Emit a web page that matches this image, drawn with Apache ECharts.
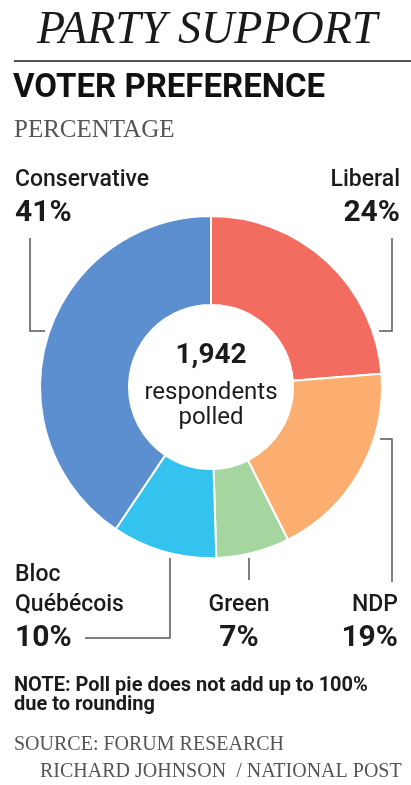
<!DOCTYPE html>
<html>
<head>
<meta charset="utf-8">
<script src="https://cdn.jsdelivr.net/npm/echarts@6/dist/echarts.min.js"></script>
<style>
html,body{margin:0;padding:0;background:#fff;}
#chart{width:411px;height:785px;}
</style>
</head>
<body>
<div id="chart"></div>
<script>
// ---- data ----
const parties = ['Liberal', 'NDP', 'Green', 'Bloc Québécois', 'Conservative'];
const shares = [24, 19, 7, 10, 41];
const respondents = 1942;

// ---- styles / layout (kept separate from data) ----
const sliceColors = {
  'Liberal': '#f26c60',
  'NDP': '#fbae70',
  'Green': '#a6d6a0',
  'Bloc Québécois': '#34c3ef',
  'Conservative': '#5b8fd0'
};
const SANS = 'Roboto, "Noto Sans", sans-serif';
const SERIF = '"Liberation Serif", "DejaVu Serif", serif';
const INK = '#1b1b1b';
const LINE = '#555';

const labelPlacement = {
  'Conservative':   { x: 15,  y: 165, align: 'left',   va: 'top',    pts: [[30, 238], [30, 331], [45, 331]] },
  'Liberal':        { x: 400, y: 165, align: 'right',  va: 'top',    pts: [[392, 238], [392, 331], [379, 331]] },
  'NDP':            { x: 398, y: 656, align: 'right',  va: 'bottom', pts: [[380, 439], [392, 439], [392, 582]] },
  'Green':          { x: 239, y: 656, align: 'center', va: 'bottom', pts: [[249, 558], [249, 569], [249, 580]] },
  'Bloc Québécois': { x: 15,  y: 656, align: 'left',   va: 'bottom', pts: [[170, 558], [170, 638], [85, 638]] }
};

const chart = echarts.init(document.getElementById('chart'), null, { renderer: 'canvas' });

const option = {
  backgroundColor: '#fff',
  animation: false,
  graphic: [
    { type: 'text', left: 37, top: 8, style: { text: 'PARTY SUPPORT', font: 'italic 46px ' + SERIF, fill: '#1a1a1a' } },
    { type: 'rect', shape: { x: 14, y: 60, width: 397, height: 2 }, style: { fill: '#555' } },
    { type: 'text', left: 13, top: 72, style: { text: 'VOTER PREFERENCE', font: 'bold 33px ' + SANS, fill: '#111' } },
    { type: 'text', left: 14, top: 118, style: { text: 'PERCENTAGE', font: '25px ' + SERIF, fill: '#555' } },
    { type: 'text', left: 14, top: 676, style: { text: 'NOTE: Poll pie does not add up to 100%\ndue to rounding', font: 'bold 20px ' + SANS, fill: INK, lineHeight: 19 } },
    { type: 'text', left: 14, top: 735, style: { text: 'SOURCE: FORUM RESEARCH', font: '20px ' + SERIF, fill: '#555' } },
    { type: 'text', left: 40, top: 762, style: { text: 'RICHARD JOHNSON  / NATIONAL POST', font: '20px ' + SERIF, fill: '#555' } },
    { type: 'text', x: 211, y: 356, style: { text: respondents.toLocaleString('en-US'), font: 'bold 28px ' + SANS, fill: INK, align: 'center', verticalAlign: 'middle' } },
    { type: 'text', x: 211, y: 405, style: { text: 'respondents\npolled', font: '24px ' + SANS, fill: INK, align: 'center', verticalAlign: 'middle', lineHeight: 25 } }
  ],
  series: [{
    type: 'pie',
    center: [211, 387],
    radius: [82, 171],
    startAngle: 90,
    clockwise: true,
    avoidLabelOverlap: false,
    itemStyle: { borderColor: '#fff', borderWidth: 2 },
    emphasis: { disabled: true },
    label: {
      show: true,
      formatter: function (p) {
        return p.name.split(' ').map(function (s) { return '{n|' + s + '}'; }).join('\n') + '\n{v|' + p.value + '%}';
      },
      rich: {
        n: { fontFamily: SANS, fontSize: 23, fontWeight: 500, color: INK, lineHeight: 30 },
        v: { fontFamily: SANS, fontSize: 30, fontWeight: 'bold', color: INK, lineHeight: 36 }
      }
    },
    labelLine: { show: true, lineStyle: { color: LINE, width: 1.5 } },
    labelLayout: function (params) {
      const name = parties[params.dataIndex];
      const c = labelPlacement[name];
      return { x: c.x, y: c.y, align: c.align, verticalAlign: c.va, labelLinePoints: c.pts };
    },
    data: parties.map(function (n, i) {
      return { name: n, value: shares[i], itemStyle: { color: sliceColors[n] } };
    })
  }]
};
chart.setOption(option);
</script>
</body>
</html>
